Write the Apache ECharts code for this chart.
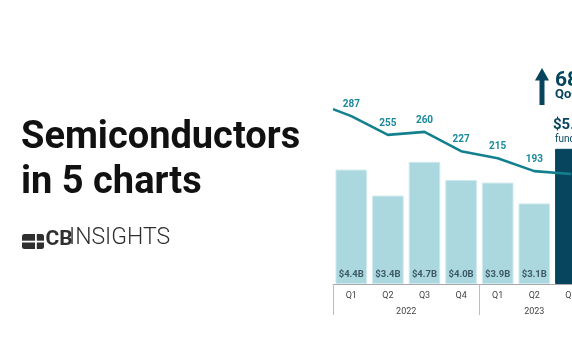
<!DOCTYPE html>
<html>
<head>
<meta charset="utf-8">
<style>
  html, body { margin: 0; padding: 0; background: #ffffff; overflow: hidden; }
  #chart { width: 640px; height: 364px; }
</style>
<script src="https://cdn.jsdelivr.net/npm/echarts@6/dist/echarts.min.js"></script>
</head>
<body>
<div id="chart"></div>
<script>
// ---- data ----
const quarters = ['Q1', 'Q2', 'Q3', 'Q4', 'Q1', 'Q2', 'Q3'];
const years    = ['2022', '2022', '2022', '2022', '2023', '2023', '2023'];
const fundingB = [4.4, 3.4, 4.7, 4.0, 3.9, 3.1, 5.2];   // $B per quarter
const deals    = [287, 255, 260, 227, 215, 193, 188];   // deal count per quarter
const dealsAtLeftEdge = 299;                            // line value where it enters the plot
const titleLines = ['Semiconductors', 'in 5 charts'];

// ---- derived ----
const hi = fundingB.length - 1;
const pct = Math.round((fundingB[hi] / fundingB[hi - 1] - 1) * 100);
const groups = [];
years.forEach((y, i) => {
  const g = groups[groups.length - 1];
  if (g && g.year === y) g.end = i; else groups.push({ year: y, start: i, end: i });
});
const yearLabelPos = groups.map(g => (g.start + g.end) / 2);
const yearTickPos = [groups[0].start - 0.5].concat(groups.map(g => g.end + 0.5));

const NAVY = '#06455d';
const TEAL = '#13808f';
const LIGHT = '#abd7df';

const chart = echarts.init(document.getElementById('chart'), null, { renderer: 'canvas' });

const barData = fundingB.map((v, i) => i === hi
  ? { value: v, itemStyle: { color: NAVY, borderColor: NAVY }, label: { show: false } }
  : v);

const lineData = [{ value: [-0.5, dealsAtLeftEdge], label: { show: false }, symbolSize: 0 }]
  .concat(deals.map((v, i) => i === hi
    ? { value: [i, v], label: { show: false } }
    : { value: [i, v] }));

const option = {
  animation: false,
  backgroundColor: '#ffffff',
  textStyle: { fontFamily: 'Roboto' },
  grid: { left: 333, top: 76, width: 256.2, height: 208, containLabel: false },
  xAxis: [
    {
      type: 'category',
      data: quarters,
      position: 'bottom',
      axisLine: { show: true, lineStyle: { color: '#a8a8a8', width: 1 } },
      axisTick: { show: false },
      axisLabel: { color: '#444', fontSize: 9, margin: 7, fontFamily: 'Roboto' },
      splitLine: { show: false }
    },
    {
      type: 'value',
      min: -0.5,
      max: quarters.length - 0.5,
      position: 'bottom',
      axisLine: { show: false },
      splitLine: { show: false },
      axisTick: {
        show: true, length: 31, customValues: yearTickPos,
        lineStyle: { color: '#bdbdbd', width: 1 }
      },
      axisLabel: {
        show: true, customValues: yearLabelPos, margin: 23,
        color: '#444', fontSize: 9, fontFamily: 'Roboto',
        formatter: v => {
          const idx = yearLabelPos.findIndex(p => Math.abs(p - v) < 1e-6);
          return idx >= 0 ? groups[idx].year : '';
        }
      }
    }
  ],
  yAxis: [
    { type: 'value', min: 0, max: 8, show: false },
    { type: 'value', min: 0, max: 355.6, show: false }
  ],
  series: [
    {
      type: 'bar',
      xAxisIndex: 0, yAxisIndex: 0,
      data: barData,
      barWidth: 31.6,
      itemStyle: { color: LIGHT, borderColor: '#cfe9ee', borderWidth: 1 },
      label: {
        show: true, position: 'insideBottom', distance: 4,
        color: '#3d5a65', fontSize: 9.5, fontWeight: 'bold', fontFamily: 'Roboto',
        formatter: p => '$' + p.value.toFixed(1) + 'B'
      },
      z: 2
    },
    {
      type: 'line',
      xAxisIndex: 1, yAxisIndex: 1,
      data: lineData,
      symbol: 'circle', symbolSize: 1,
      itemStyle: { color: TEAL },
      lineStyle: { color: TEAL, width: 2.6 },
      label: {
        show: true, position: 'top', distance: 6,
        color: '#1a8a9b', fontSize: 10, fontWeight: 'bold', fontFamily: 'Roboto',
        formatter: p => String(p.value[1])
      },
      z: 5
    }
  ],
  graphic: [
    { type: 'text', style: { x: 21, y: 119, text: titleLines[0], font: 'bold 38px Roboto', fill: '#111', verticalAlign: 'top' } },
    { type: 'text', style: { x: 21, y: 164, text: titleLines[1], font: 'bold 38px Roboto', fill: '#111', verticalAlign: 'top' } },
    // logo
    { type: 'rect', shape: { x: 22, y: 234, width: 22, height: 15, r: 2.5 }, style: { fill: '#2f2f2f' } },
    { type: 'rect', shape: { x: 35, y: 234, width: 1.8, height: 15 }, style: { fill: '#fff' } },
    { type: 'rect', shape: { x: 22, y: 240.7, width: 22, height: 1.8 }, style: { fill: '#fff' } },
    { type: 'text', style: { x: 45.5, y: 250, text: 'CB', font: 'bold 21px Roboto', fill: '#2f2f2f', verticalAlign: 'bottom' } },
    { type: 'text', style: { x: 69, y: 250, text: 'INSIGHTS', font: '300 23px Roboto', fill: '#2f2f2f', verticalAlign: 'bottom' } },
    // annotation for highlighted quarter
    { type: 'polygon', shape: { points: [[535, 80.5], [542, 68], [549, 80.5]] }, style: { fill: NAVY } },
    { type: 'rect', shape: { x: 539.5, y: 80, width: 5, height: 25 }, style: { fill: NAVY } },
    { type: 'text', style: { x: 555, y: 81, text: pct + '%', font: 'bold 21px Roboto', fill: NAVY, verticalAlign: 'middle' } },
    { type: 'text', style: { x: 555, y: 95, text: 'QoQ', font: 'bold 13px Roboto', fill: NAVY, verticalAlign: 'middle' } },
    { type: 'text', style: { x: 553, y: 125, text: '$' + fundingB[hi].toFixed(1) + 'B', font: 'bold 15px Roboto', fill: NAVY, verticalAlign: 'middle' } },
    { type: 'text', style: { x: 555, y: 139.5, text: 'funding', font: '10px Roboto', fill: NAVY, verticalAlign: 'middle' } }
  ]
};

chart.setOption(option);
</script>
</body>
</html>
